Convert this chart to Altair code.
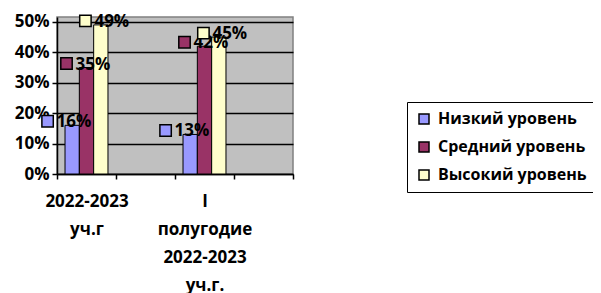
import altair as alt
import pandas as pd

categories = ["2022-2023|уч.г", " ", "I|полугодие|2022-2023|уч.г.", "  "]
data_categories = ["2022-2023|уч.г", "I|полугодие|2022-2023|уч.г."]
series = ["Низкий уровень", "Средний уровень", "Высокий уровень"]
colors = ["#9999FF", "#993366", "#FFFFCC"]
values = {
    "Низкий уровень": [0.16, 0.13],
    "Средний уровень": [0.35, 0.42],
    "Высокий уровень": [0.49, 0.45],
}

rows = []
for s in series:
    for c, v in zip(data_categories, values[s]):
        rows.append({"cat": c, "series": s, "value": v})
df = pd.DataFrame(rows)

FONT = "Open Sans"

x = alt.X("cat:N", scale=alt.Scale(domain=categories, paddingInner=0, paddingOuter=0),
          axis=alt.Axis(title=None, labelExpr="split(datum.label, '|')", labelAngle=0,
                        tickBand="extent", labelLineHeight=28, labelPadding=14,
                        labelFont=FONT, labelFontWeight="bold", labelFontSize=17,
                        labelColor="black", domainColor="black", tickColor="black",
                        tickSize=5, grid=False, domainWidth=1.5, tickWidth=1.5))
xo = alt.XOffset("series:N", sort=series,
                 scale=alt.Scale(domain=series, paddingInner=0, paddingOuter=0.56))
xo_sq = alt.XOffset("series:N", sort=series,
                    scale=alt.Scale(domain=series, paddingInner=0, paddingOuter=0.56,
                                    range=[-20, 39]))
y = alt.Y("value:Q", scale=alt.Scale(domain=[0, 0.516], nice=False),
          axis=alt.Axis(title=None, values=[0, 0.1, 0.2, 0.3, 0.4, 0.5], format=".0%",
                        labelFont=FONT, labelFontWeight="bold", labelFontSize=17,
                        labelColor="black", domainColor="black", tickColor="black",
                        tickSize=5, labelPadding=3, gridColor="black", gridWidth=1.5,
                        domainWidth=1.5, tickWidth=1.5))
color = alt.Color("series:N", scale=alt.Scale(domain=series, range=colors),
                  legend=alt.Legend(title=None, orient="none", legendX=350, legendY=85,
                                    symbolType="square", symbolSize=100,
                                    symbolStrokeColor="black", symbolStrokeWidth=1.5,
                                    labelFont=FONT, labelFontWeight=700, labelFontSize=16,
                                    labelColor="black", labelOffset=6, labelLimit=300,
                                    rowPadding=12, padding=9, strokeColor="black",
                                    fillColor="white"))

base = alt.Chart(df)
bars = base.mark_bar(stroke="black", strokeWidth=1).encode(x=x, xOffset=xo, y=y, color=color)
squares = base.mark_square(size=130, stroke="black", strokeWidth=1.5, opacity=1,
                           yOffset=-4).encode(
    x=x, xOffset=xo_sq, y=y, color=alt.Color("series:N", legend=None))
labels = base.mark_text(align="left", baseline="middle", dx=-11, dy=-3, font=FONT,
                        fontWeight="bold", fontSize=17, color="black").encode(
    x=x, xOffset=xo, y=y, text=alt.Text("value:Q", format=".0%"))

chart = alt.layer(bars, labels, squares).resolve_scale(xOffset="independent").properties(
    width=236, height=157,
    autosize=alt.AutoSizeParams(type="none"),
    padding={"left": 49, "top": 9, "right": 300, "bottom": 119},
    background="white",
).configure_view(fill="#C0C0C0", stroke="#808080", strokeWidth=1.5
).configure_legend(labelFontWeight=700, labelFont=FONT)

chart.save("out.html", embed_options={"renderer": "svg", "actions": False})
